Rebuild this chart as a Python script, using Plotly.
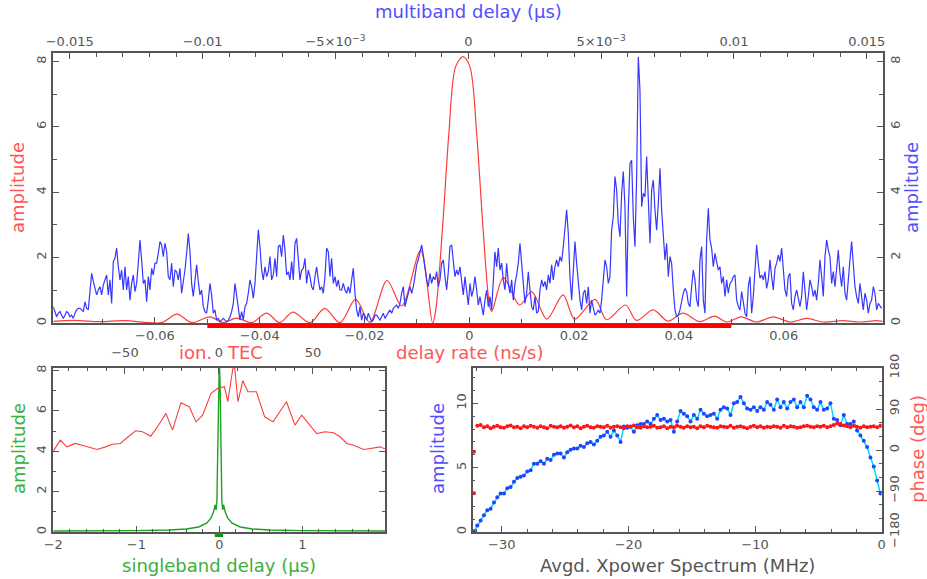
import numpy as np
import plotly.graph_objects as go

# ---------------- data ----------------
# Top panel, blue: multiband delay amplitude on a uniform delay grid (us)
mbd_start, mbd_stop = -0.01562, 0.01556
mbd_amp = [
 0.50, 0.30, 0.19, 0.30, 0.35, 0.24, 0.14, 0.24, 0.35, 0.30,
 0.19, 0.24, 0.14, 0.30, 0.40, 0.45, 0.45, 0.40, 0.35, 0.65,
 0.45, 0.40, 1.01, 1.52, 1.27, 1.01, 0.86, 1.01, 1.11, 0.86,
 1.16, 1.32, 1.47, 0.86, 1.32, 0.60, 1.88, 1.98, 2.29, 1.72,
 1.32, 1.62, 1.01, 1.72, 1.01, 1.42, 0.70, 1.21, 1.47, 0.96,
 1.21, 1.83, 2.54, 1.93, 1.21, 1.32, 0.65, 1.42, 1.01, 1.67,
 1.47, 1.83, 1.83, 2.13, 2.49, 2.39, 2.03, 2.44, 2.18, 1.42,
 1.32, 1.83, 1.11, 1.62, 1.57, 1.32, 1.67, 0.91, 1.21, 1.62,
 2.13, 2.74, 2.18, 1.21, 0.81, 1.32, 1.78, 1.27, 0.86, 1.01,
 0.50, 0.35, 0.30, 0.70, 1.21, 0.86, 0.30, 0.40, 0.09, 0.14,
 0.04, 0.09, 0.14, 0.09, 0.04, 0.09, 0.19, 0.35, 0.60, 1.21,
 0.86, 0.40, 0.09, 0.35, 0.09, 0.50, 0.60, 0.91, 1.32, 1.11,
 0.76, 1.21, 1.93, 2.85, 2.34, 1.62, 1.32, 1.72, 1.42, 1.57,
 2.03, 1.32, 1.47, 1.98, 1.42, 2.34, 2.39, 2.03, 2.69, 2.23,
 1.47, 1.57, 1.32, 1.88, 1.32, 2.44, 2.59, 1.88, 1.32, 1.62,
 1.67, 1.98, 1.21, 1.62, 1.42, 1.11, 1.01, 1.42, 1.72, 1.32,
 1.01, 1.11, 0.91, 1.42, 2.29, 2.18, 1.42, 1.98, 1.21, 1.42,
 1.11, 1.32, 1.01, 1.01, 1.21, 1.01, 0.91, 1.11, 0.91, 1.32,
 1.67, 0.91, 0.40, 0.19, 0.50, 0.09, 0.30, 0.19, 0.09, 0.30,
 0.19, 0.04, 0.09, 0.24, 0.24, 0.14, 0.09, 0.19, 0.30, 0.14,
 0.24, 0.35, 0.40, 0.30, 0.45, 0.50, 0.55, 0.45, 0.60, 0.91,
 1.11, 0.50, 0.70, 0.86, 1.11, 0.91, 1.11, 1.42, 1.78, 1.93,
 2.13, 2.39, 2.08, 1.62, 1.32, 1.11, 1.52, 1.21, 1.42, 1.32,
 1.57, 1.11, 1.32, 1.83, 1.93, 1.42, 1.01, 1.57, 2.34, 2.39,
 1.83, 1.42, 1.62, 1.47, 1.72,
 1.32, 0.86, 1.42, 0.96, 0.55, 1.21, 0.81, 1.01, 1.42, 1.01,
 0.55, 0.81, 0.50, 0.24, 0.70, 1.01, 0.50, 0.81, 0.40, 1.47,
 2.18, 1.72, 2.29, 1.62, 1.83, 1.32, 1.01, 1.83, 1.21, 0.91,
 1.32, 0.70, 1.21, 1.47, 1.83, 2.44, 1.72, 1.11, 0.60, 0.91,
 1.57, 1.01, 0.50, 0.40, 0.81, 0.30, 0.35, 1.01, 1.32, 1.11,
 1.27, 1.01, 1.47, 1.21, 1.78, 1.32, 1.72, 1.93, 1.72, 2.03,
 1.88, 2.34, 2.85, 3.46, 2.74, 1.42, 0.70, 1.83, 2.49, 1.83,
 1.11, 0.70, 0.40, 0.91, 1.01, 0.60, 1.11, 0.30, 0.70, 0.50,
 0.24, 0.30, 0.40,
 0.30, 0.70, 1.31, 1.93, 1.72, 1.21, 1.42, 2.84, 3.25, 4.48,
 4.07, 3.05, 2.64, 3.97, 4.63, 3.56, 0.81, 3.46, 4.88, 4.98,
 3.25, 2.33, 4.48, 8.14, 7.13, 3.56, 3.97, 3.86, 5.09, 3.66,
 2.44, 4.07, 4.37, 3.46, 2.84, 3.66, 4.73, 3.46, 2.54, 1.93,
 2.44, 1.42, 2.03, 1.82, 1.01,
 0.40, 0.19, 0.24, 0.40, 0.70, 0.91, 1.06, 0.96, 0.60, 0.50,
 1.11, 1.62, 1.32, 0.70, 0.50, 1.93, 2.34, 0.70, 0.30, 2.54,
 3.51, 2.54, 2.29, 1.72, 2.13, 1.83, 1.62, 1.72, 1.21, 1.42,
 0.81, 1.32, 0.91, 1.21, 1.27, 1.42, 1.47, 0.70, 0.50, 0.40,
 0.96, 0.65, 0.30, 0.19, 1.11, 1.42, 0.30, 0.81, 1.72, 2.39,
 1.83, 1.37, 1.47, 1.32, 1.57, 1.06, 1.32, 1.93, 1.42, 1.01,
 1.67, 1.83, 2.08, 1.88, 2.29, 1.72, 1.01, 0.81, 1.42, 1.52,
 0.60, 0.40, 0.81, 1.01, 0.70, 0.50, 0.81, 1.57, 1.01, 0.40,
 0.81, 1.32, 1.11, 0.81, 1.01, 0.70, 1.21, 1.93, 1.42, 0.81,
 2.03, 2.54, 2.23, 2.03, 1.21, 1.57, 1.11, 1.83, 2.23, 1.52,
 1.11, 1.72, 0.91, 0.70, 1.21, 1.93, 2.49, 1.72, 1.11, 0.81,
 0.60, 1.21, 0.81, 0.40, 0.91, 0.70, 0.30, 0.60, 0.70, 1.11,
 0.91, 0.40, 0.60, 0.50, 0.45,
]

# Top panel, red: delay-rate spectrum
rate_val = [-0.0794, -0.0753, -0.0705, -0.0657, -0.0619, -0.0587, -0.0558, -0.0530,
            -0.0495, -0.0470, -0.0444, -0.0415, -0.0387, -0.0362, -0.0337, -0.0304,
            -0.0276, -0.0247, -0.0217, -0.0190, -0.0157, -0.0129, -0.0093, -0.0070,
            -0.0064, -0.0051, -0.0045, -0.0039, -0.0026, -0.0012, 0.0001, 0.0014,
            0.0020, 0.0026, 0.0039, 0.0043, 0.0065, 0.0096, 0.0119, 0.0148,
            0.0179, 0.0201, 0.0240, 0.0262, 0.0298, 0.0319, 0.0351, 0.0379,
            0.0408, 0.0440, 0.0468, 0.0491, 0.0519, 0.0548, 0.0580, 0.0612,
            0.0644, 0.0675, 0.0713, 0.0745, 0.0777, 0.0789]
rate_amp = [0.05, 0.08, 0.04, 0.07, 0.02, 0.01, 0.27, 0.01, 0.19, 0.01, 0.15, 0.01,
            0.30, 0.01, 0.33, 0.01, 0.45, 0.01, 0.72, 0.02, 1.30, 0.52, 2.22, 0.0,
            0.4, 2.95, 4.4, 5.8, 7.85, 8.15, 7.85, 5.8, 4.4, 2.95, 0.5, 0.35,
            1.39, 0.55, 0.96, 0.12, 0.86, 0.12, 0.72, 0.10, 0.55, 0.08, 0.40, 0.06,
            0.30, 0.04, 0.21, 0.03, 0.19, 0.03, 0.19, 0.03, 0.14, 0.03, 0.07, 0.03,
            0.07, 0.05]
rate_window = [-0.05, 0.05]

# Lower left, red: ionospheric TEC search
tec_val = [-88.9, -84.4, -80.9, -76.4, -71.0, -64.8, -60.3, -56.8, -52.3, -50.5,
           -44.3, -40.7, -36.3, -32.7, -28.2, -24.7, -20.2, -15.8, -12.2, -8.7,
           -4.2, -0.6, 2.9, 4.7, 7.4, 8.3, 10.1, 12.7, 15.4, 19.9,
           24.3, 28.8, 35.9, 40.4, 44.0, 52.0, 56.4, 60.9, 64.4, 68.0,
           71.6, 76.9, 80.5, 85.8, 88.9]
tec_amp = [3.89, 4.55, 4.22, 4.39, 4.25, 4.09, 4.22, 4.35, 4.39, 4.55,
           5.02, 4.97, 4.75, 5.22, 5.88, 5.05, 6.41, 6.21, 5.46, 5.79,
           6.87, 7.12, 7.20, 6.46, 8.11, 8.20, 6.46, 7.50, 6.95, 6.95,
           5.71, 5.46, 6.46, 5.30, 5.79, 4.88, 4.97, 4.92, 4.72, 4.39,
           4.30, 4.09, 4.14, 4.22, 4.09]

# Lower left, green: singleband delay
sbd_val = [-2.0, -1.5, -1.0, -0.6, -0.4, -0.25, -0.15, -0.1, -0.07, -0.05, -0.04,
           -0.03, -0.02, -0.01, 0.0, 0.01, 0.02, 0.03, 0.04, 0.05, 0.07, 0.1,
           0.15, 0.25, 0.4, 0.6, 1.0, 1.5, 2.0]
sbd_amp = [0.05, 0.05, 0.07, 0.10, 0.15, 0.25, 0.45, 0.70, 1.00, 1.35, 1.10,
           1.50, 3.50, 7.00, 8.60, 7.00, 3.50, 1.50, 1.10, 1.35, 1.00, 0.70,
           0.45, 0.25, 0.15, 0.10, 0.07, 0.05, 0.05]
sbd_window = [-0.055, 0.045]

# Lower right: averaged cross-power spectrum
xp_start, xp_stop = -32.2, -0.1
xp_amp = [
 0.05, 0.5, 0.9, 1.3, 1.7, 1.8, 2.3, 2.7, 3.0, 3.0,
 3.4, 3.5, 3.9, 4.2, 4.3, 4.4, 4.7, 4.8, 5.3, 5.3,
 5.5, 5.3, 5.7, 5.6, 6.0, 6.1, 6.1, 5.8, 6.2, 6.4,
 6.5, 6.5, 6.7, 6.6, 6.9, 7.0, 6.8, 7.1, 7.4, 7.5,
 7.8, 7.4, 7.9, 7.5, 7.0, 8.2, 8.1, 8.2, 7.8, 8.3,
 8.4, 8.4, 8.6, 8.4, 8.8, 9.1, 8.7, 8.8, 8.6, 8.7,
 7.8, 8.6, 9.4, 9.2, 9.0, 8.6, 9.1, 8.8, 9.5, 9.2,
 9.0, 9.1, 9.2, 8.8, 9.5, 9.7, 9.6, 9.1, 10.0, 10.1,
 10.5, 10.0, 9.6, 9.5, 9.7, 9.4, 9.7, 9.5, 10.1, 9.9,
 9.5, 10.3, 9.7, 10.1, 9.6, 10.1, 10.3, 9.7, 10.1, 9.7,
 10.6, 10.3, 9.7, 9.5, 10.1, 9.5, 9.6, 10.0, 8.8, 8.7,
 8.3, 9.1, 8.4, 8.4, 8.6, 7.9, 7.5, 7.1, 6.6, 5.8,
 5.1, 4.0, 3.0]
xp_phase = [
 -95, 53, 55, 50, 52, 48, 51, 53, 50, 49, 52, 54, 50, 51, 48, 52, 50, 53, 51, 49,
 52, 50, 48, 53, 51, 50, 52, 49, 51, 54, 50, 52, 48, 51, 53, 50, 49, 52, 51, 50,
 53, 49, 51, 52, 50, 48, 52, 51, 54, 50, 49, 52, 50, 51, 53, 49, 50, 52, 48, 51,
 50, 53, 51, 49, 52, 50, 51, 48, 52, 50, 53, 51, 50, 49, 52, 51, 50, 53, 49, 51,
 52, 50, 48, 51, 53, 50, 52, 49, 51, 50, 52, 51, 49, 53, 50, 52, 51, 49, 50, 52,
 53, 51, 50, 52, 51, 53, 50, 52, 55, 58, 57, 54, 52, 50, 53, 51, 49, 52, 50, 51,
 52, 50, 53]
xp_phase_extra_freq = [-32.2]
xp_phase_extra = [-4]

# ---------------- styling ----------------
W, H = 927, 579
RED = "rgb(255,60,60)"
RED_T = "rgb(255,85,85)"
BLUE = "rgb(55,55,255)"
BLUE_T = "rgb(80,80,255)"
GREEN = "rgb(30,160,30)"
GREEN_T = "rgb(60,175,60)"
GRAY = "#555555"
FONT = "DejaVu Sans"

def px(x):
    return x / W

def py(y):
    return 1 - y / H

tick_font = dict(family=FONT, size=13, color=GRAY)

def axis_common(**kw):
    d = dict(showgrid=False, zeroline=False, showline=True, linecolor=GRAY, linewidth=1.5,
             ticks="inside", ticklen=6, tickwidth=1.2, tickcolor=GRAY, tickfont=tick_font,
             automargin=False)
    d.update(kw)
    return d

def minor(vals, ln=3):
    return dict(tickmode="array", tickvals=list(vals), ticks="inside", ticklen=ln,
                tickwidth=1, tickcolor=GRAY)

fig = go.Figure()

mbd_x = np.linspace(mbd_start, mbd_stop, len(mbd_amp))
fig.add_trace(go.Scatter(x=mbd_x, y=mbd_amp, xaxis="x2", yaxis="y2", mode="lines",
                         line=dict(color=BLUE, width=1.2), hoverinfo="skip"))
fig.add_trace(go.Scatter(x=rate_val, y=rate_amp, xaxis="x", yaxis="y", mode="lines",
                         line=dict(color=RED, width=1.2, shape="spline", smoothing=0.9),
                         hoverinfo="skip"))
fig.add_trace(go.Scatter(x=rate_window, y=[0.5, 0.5], xaxis="x", yaxis="y6", mode="lines",
                         line=dict(color="rgb(255,0,0)", width=4), hoverinfo="skip"))

fig.add_trace(go.Scatter(x=tec_val, y=tec_amp, xaxis="x4", yaxis="y3", mode="lines",
                         line=dict(color=RED, width=1.1), hoverinfo="skip"))
fig.add_trace(go.Scatter(x=sbd_val, y=sbd_amp, xaxis="x3", yaxis="y3", mode="lines",
                         line=dict(color=GREEN, width=1.4), hoverinfo="skip"))
fig.add_trace(go.Scatter(x=sbd_window, y=[0.5, 0.5], xaxis="x3", yaxis="y7", mode="lines",
                         line=dict(color="rgb(20,150,20)", width=4), hoverinfo="skip"))

xp_x = np.linspace(xp_start, xp_stop, len(xp_amp))
fig.add_trace(go.Scatter(x=xp_x, y=xp_phase, xaxis="x5", yaxis="y5", mode="markers",
                         marker=dict(color="rgb(255,20,20)", size=4), hoverinfo="skip"))
fig.add_trace(go.Scatter(x=xp_phase_extra_freq, y=xp_phase_extra, xaxis="x5", yaxis="y5",
                         mode="markers", marker=dict(color="rgb(255,20,20)", size=4),
                         hoverinfo="skip"))
fig.add_trace(go.Scatter(x=xp_x, y=xp_amp, xaxis="x5", yaxis="y4", mode="lines+markers",
                         line=dict(color="rgb(0,215,255)", width=1.5),
                         marker=dict(color="rgb(30,70,255)", size=4), hoverinfo="skip"))

top_dom_x = [px(53.3), px(882.7)]
top_dom_y = [py(323), py(53.3)]
low_dom_y = [py(532), py(368)]
ll_dom_x = [px(53.3), px(385)]
lr_dom_x = [px(472.7), px(881.7)]

mbd_ticks = [-0.015, -0.01, -0.005, 0, 0.005, 0.01, 0.015]
mbd_text = ["\u22120.015", "\u22120.01", "\u22125\u00d710<sup>\u22123</sup>", "0",
            "5\u00d710<sup>\u22123</sup>", "0.01", "0.015"]

fig.update_layout(
    width=W, height=H, margin=dict(l=0, r=0, t=0, b=0, autoexpand=False),
    paper_bgcolor="white", plot_bgcolor="white", showlegend=False,
    xaxis=axis_common(domain=top_dom_x, anchor="y", range=[-0.0794, 0.0789],
                      tickmode="array", tickvals=[-0.06, -0.04, -0.02, 0, 0.02, 0.04, 0.06],
                      minor=minor(np.round(np.arange(-0.07, 0.071, 0.01), 3), 4)),
    xaxis2=axis_common(overlaying="x", side="top", anchor="y", range=[-0.01562, 0.01560],
                       tickmode="array", tickvals=mbd_ticks, ticktext=mbd_text,
                       minor=minor(np.round(np.arange(-0.015, 0.0151, 0.001), 4), 4)),
    yaxis=axis_common(domain=top_dom_y, anchor="x", range=[0, 8.25], tickangle=-90,
                      tickmode="array", tickvals=[0, 2, 4, 6, 8],
                      minor=minor([1, 3, 5, 7], 4)),
    yaxis2=axis_common(overlaying="y", side="right", anchor="x", range=[0, 8.25], tickangle=-90,
                       tickmode="array", tickvals=[0, 2, 4, 6, 8],
                       minor=minor([1, 3, 5, 7], 4)),
    yaxis6=dict(domain=[py(328), py(324)], anchor="x", range=[0, 1], visible=False),
    xaxis3=axis_common(domain=ll_dom_x, anchor="y3", range=[-2, 1.995],
                       tickmode="array", tickvals=[-2, -1, 0, 1],
                       minor=minor(np.round(np.arange(-1.8, 1.95, 0.2), 2), 3)),
    xaxis4=axis_common(overlaying="x3", side="top", anchor="y3", range=[-88.1, 88.3],
                       tickmode="array", tickvals=[-50, 0, 50], ticklabelstandoff=4,
                       minor=minor([v for v in range(-80, 90, 10) if v % 50], 3)),
    yaxis3=axis_common(domain=low_dom_y, anchor="x3", range=[0, 8.13], tickangle=-90,
                       mirror="ticks", tickmode="array", tickvals=[0, 2, 4, 6, 8],
                       minor=minor([1, 3, 5, 7], 3)),
    yaxis7=dict(domain=[py(537), py(533)], anchor="x3", range=[0, 1], visible=False),
    xaxis5=axis_common(domain=lr_dom_x, anchor="y4", range=[-32.3, 0], mirror="ticks",
                       tickmode="array", tickvals=[-30, -20, -10, 0],
                       minor=minor([v for v in range(-32, 0, 2) if v % 10], 3)),
    yaxis4=axis_common(domain=low_dom_y, anchor="x5", range=[0, 12.75], tickangle=-90,
                       tickmode="array", tickvals=[0, 5, 10],
                       minor=minor([v for v in range(1, 13) if v % 5], 3)),
    yaxis5=axis_common(overlaying="y4", side="right", anchor="x5", range=[-180, 180],
                       tickangle=-90, tickmode="array", tickvals=[-180, -90, 0, 90, 180],
                       minor=minor([-150, -120, -60, -30, 30, 60, 120, 150], 3)),
)

def ann(text, x, y, color, angle=0, xanchor="center", size=18):
    return dict(text=text, x=px(x), y=py(y), xref="paper", yref="paper", showarrow=False,
                xanchor=xanchor, yanchor="middle", textangle=angle,
                font=dict(family=FONT, size=size, color=color))

fig.update_layout(annotations=[
    ann("multiband delay (\u03bcs)", 468, 12, BLUE_T),
    ann("amplitude", 18, 188, RED_T, -90),
    ann("amplitude", 912, 188, BLUE_T, -90),
    ann("ion.", 214, 352, RED_T, xanchor="right"),
    ann("TEC", 225, 352, RED_T, xanchor="left"),
    ann("delay rate (ns/s)", 469, 352, RED_T),
    ann("amplitude", 18, 449, GREEN_T, -90),
    ann("singleband delay (\u03bcs)", 219, 565, GREEN_T),
    ann("amplitude", 437, 449, BLUE_T, -90),
    ann("phase (deg)", 917, 449, RED_T, -90),
    ann("Avgd. Xpower Spectrum (MHz)", 677, 565, GRAY),
])

fig.write_html("out.html", config={"displayModeBar": False},
               post_script="document.body.style.margin='0';document.body.style.overflow='hidden';")
